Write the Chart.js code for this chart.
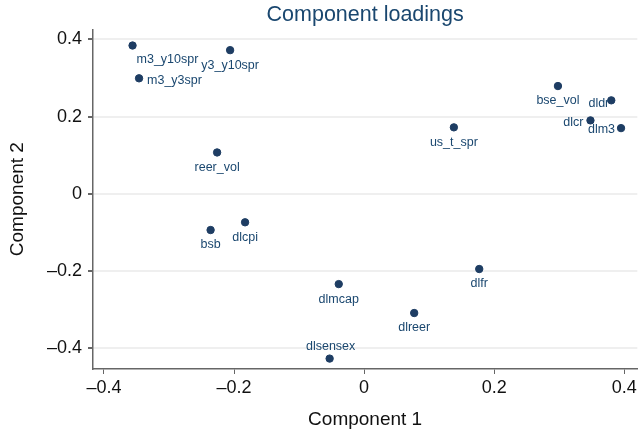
<!DOCTYPE html>
<html>
<head>
<meta charset="utf-8">
<script src="https://cdn.jsdelivr.net/npm/chart.js@4/dist/chart.umd.min.js"></script>
<style>
  html, body { margin: 0; padding: 0; background: #fff; }
  #wrap { width: 642px; height: 433px; }
</style>
</head>
<body>
<div id="wrap"><canvas id="chart" width="642" height="433"></canvas></div>
<script>
// Variable names
const variables = [
  "m3_y10spr", "y3_y10spr", "m3_y3spr", "reer_vol", "bsb", "dlcpi",
  "dlmcap", "dlsensex", "dlreer", "dlfr", "us_t_spr",
  "bse_vol", "dldr", "dlcr", "dlm3"
];

// Component 1 loadings
const comp1 = [
  -0.356, -0.206, -0.346, -0.226, -0.236, -0.183,
  -0.039, -0.053, 0.077, 0.177, 0.138,
  0.298, 0.380, 0.348, 0.395
];

// Component 2 loadings
const comp2 = [
  0.384, 0.372, 0.299, 0.107, -0.094, -0.074,
  -0.234, -0.427, -0.309, -0.195, 0.172,
  0.279, 0.242, 0.190, 0.170
];

// Tick labels
const xTicks = [-0.4, -0.2, 0, 0.2, 0.4];
const yTicks = [-0.4, -0.2, 0, 0.2, 0.4];

const navy = "#1a476f";
const FONT = "'Liberation Sans', Arial, sans-serif";

// label placement: [textAlign, dx, dy]; default is centred below the marker
const labelSide = {
  "m3_y10spr": ["left", 4, 14],
  "m3_y3spr": ["left", 8, 2],
  "dldr": ["right", -2, 3],
  "dlcr": ["right", -7, 2],
  "dlm3": ["right", -6, 1],
  "dlsensex": ["center", 1, -12]
};

const pointLabels = {
  id: "pointLabels",
  afterDatasetsDraw(chart) {
    const ctx = chart.ctx;
    const meta = chart.getDatasetMeta(0);
    ctx.save();
    ctx.font = "12.5px " + FONT;
    ctx.fillStyle = navy;
    ctx.textBaseline = "middle";
    meta.data.forEach((pt, i) => {
      const name = variables[i];
      const [align, dx, dy] = labelSide[name] || ["center", 0, 15];
      ctx.textAlign = align;
      ctx.fillText(name, pt.x + dx, pt.y + dy);
    });
    ctx.restore();
  }
};

const minus = (v) => (v < 0 ? "\u2013" : "") + Math.abs(v);

new Chart(document.getElementById("chart").getContext("2d"), {
  type: "scatter",
  data: {
    datasets: [{
      data: variables.map((v, i) => ({ x: comp1[i], y: comp2[i] })),
      backgroundColor: "#1e3d63",
      borderColor: "#1e3d63",
      pointRadius: 3.7,
      pointHoverRadius: 3.7
    }]
  },
  options: {
    responsive: false,
    animation: false,
    layout: { padding: { left: 0, right: 2, top: 0, bottom: 0 } },
    plugins: {
      legend: { display: false },
      tooltip: { enabled: false },
      title: {
        display: true,
        fullSize: false,
        text: "Component loadings",
        color: navy,
        font: { family: FONT, size: 21.5, weight: "normal" },
        padding: { top: 2, bottom: 1.5 }
      }
    },
    scales: {
      x: {
        type: "linear",
        min: -0.4168,
        max: 0.42,
        afterBuildTicks: (s) => { s.ticks = xTicks.map((v) => ({ value: v })); },
        afterFit: (s) => { s.height = 64; s.paddingLeft = 0; s.paddingRight = 0; },
        ticks: {
          color: "#111",
          padding: 3,
          font: { family: FONT, size: 18 },
          callback: (v) => minus(v)
        },
        grid: { drawOnChartArea: false, drawTicks: true, tickLength: 5, tickColor: "#666" },
        border: { color: "#666", width: 1.5 },
        title: {
          display: true,
          text: "Component 1",
          color: "#111",
          padding: { top: 2, bottom: 2 },
          font: { family: FONT, size: 19 }
        }
      },
      y: {
        type: "linear",
        min: -0.454,
        max: 0.426,
        afterBuildTicks: (s) => { s.ticks = yTicks.map((v) => ({ value: v })); },
        afterFit: (s) => { s.width = 93; },
        ticks: {
          color: "#111",
          padding: 6,
          font: { family: FONT, size: 18 },
          callback: (v) => minus(v)
        },
        grid: { color: "#efefef", lineWidth: 2, drawTicks: true, tickLength: 5, tickColor: "#666" },
        border: { color: "#666", width: 1.5 },
        title: {
          display: true,
          text: "Component 2",
          color: "#111",
          padding: { top: 6.5, bottom: 2 },
          font: { family: FONT, size: 19 }
        }
      }
    }
  },
  plugins: [pointLabels]
});
</script>
</body>
</html>
